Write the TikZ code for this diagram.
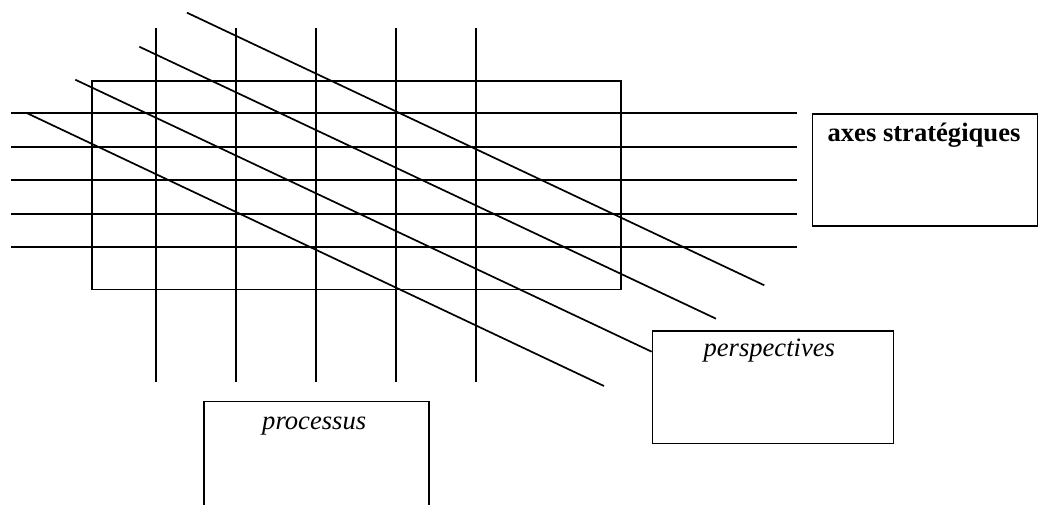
\documentclass[tikz,border=0pt]{standalone}
\usepackage{fontspec}
\setmainfont{Liberation Serif}
\begin{document}
\begin{tikzpicture}[x=1pt,y=-1pt,
  ln/.style={line width=1.7pt,line cap=butt},
  box/.style={draw,line width=1.7pt,rectangle,inner sep=0pt,anchor=north west,fill=white},
  lbl/.style={inner sep=0pt,anchor=base,font=\fontsize{26.6}{30}\selectfont}]
\useasboundingbox (0,0) rectangle (1038,504);
\clip (0,0) rectangle (1038,504);
% big rectangle
\node[box,fill=none,minimum width=529pt,minimum height=208.5pt] (grid) at (91.3,80) {};
% horizontal lines
\foreach \y in {113.3,146.7,180.3,213.7,247}
  \draw[ln] (11,\y) -- (796.7,\y);
% vertical lines
\foreach \x in {155.7,235.7,315.7,395.7,475.7}
  \draw[ln] (\x,28.3) -- (\x,382);
% boxes
\node[box,minimum width=225pt,minimum height=112.3pt] (axes) at (811.7,113) {};
\node[box,minimum width=241pt,minimum height=112.4pt] (persp) at (651.7,330.3) {};
\node[box,minimum width=225pt,minimum height=130pt] (proc) at (203.3,400.5) {};
% diagonal lines
\draw[ln] (187,12.7) -- (764.3,285.3);
\draw[ln] (139.3,46.7) -- (716,318.7);
\draw[ln] (75.3,79.7) -- (persp.west |- 0,351.7);
\draw[ln] (27.3,113.3) -- (604,386);
% texts
\node[lbl,font=\fontsize{26.6}{30}\selectfont\bfseries] (taxes) at (924,141) {axes stratégiques};
\node[lbl,font=\fontsize{26.6}{30}\selectfont\itshape] (tpersp) at (769.3,356.7) {perspectives};
\node[lbl,font=\fontsize{26.6}{30}\selectfont\itshape] (tproc) at (314.2,429) {processus};
\end{tikzpicture}
\end{document}
